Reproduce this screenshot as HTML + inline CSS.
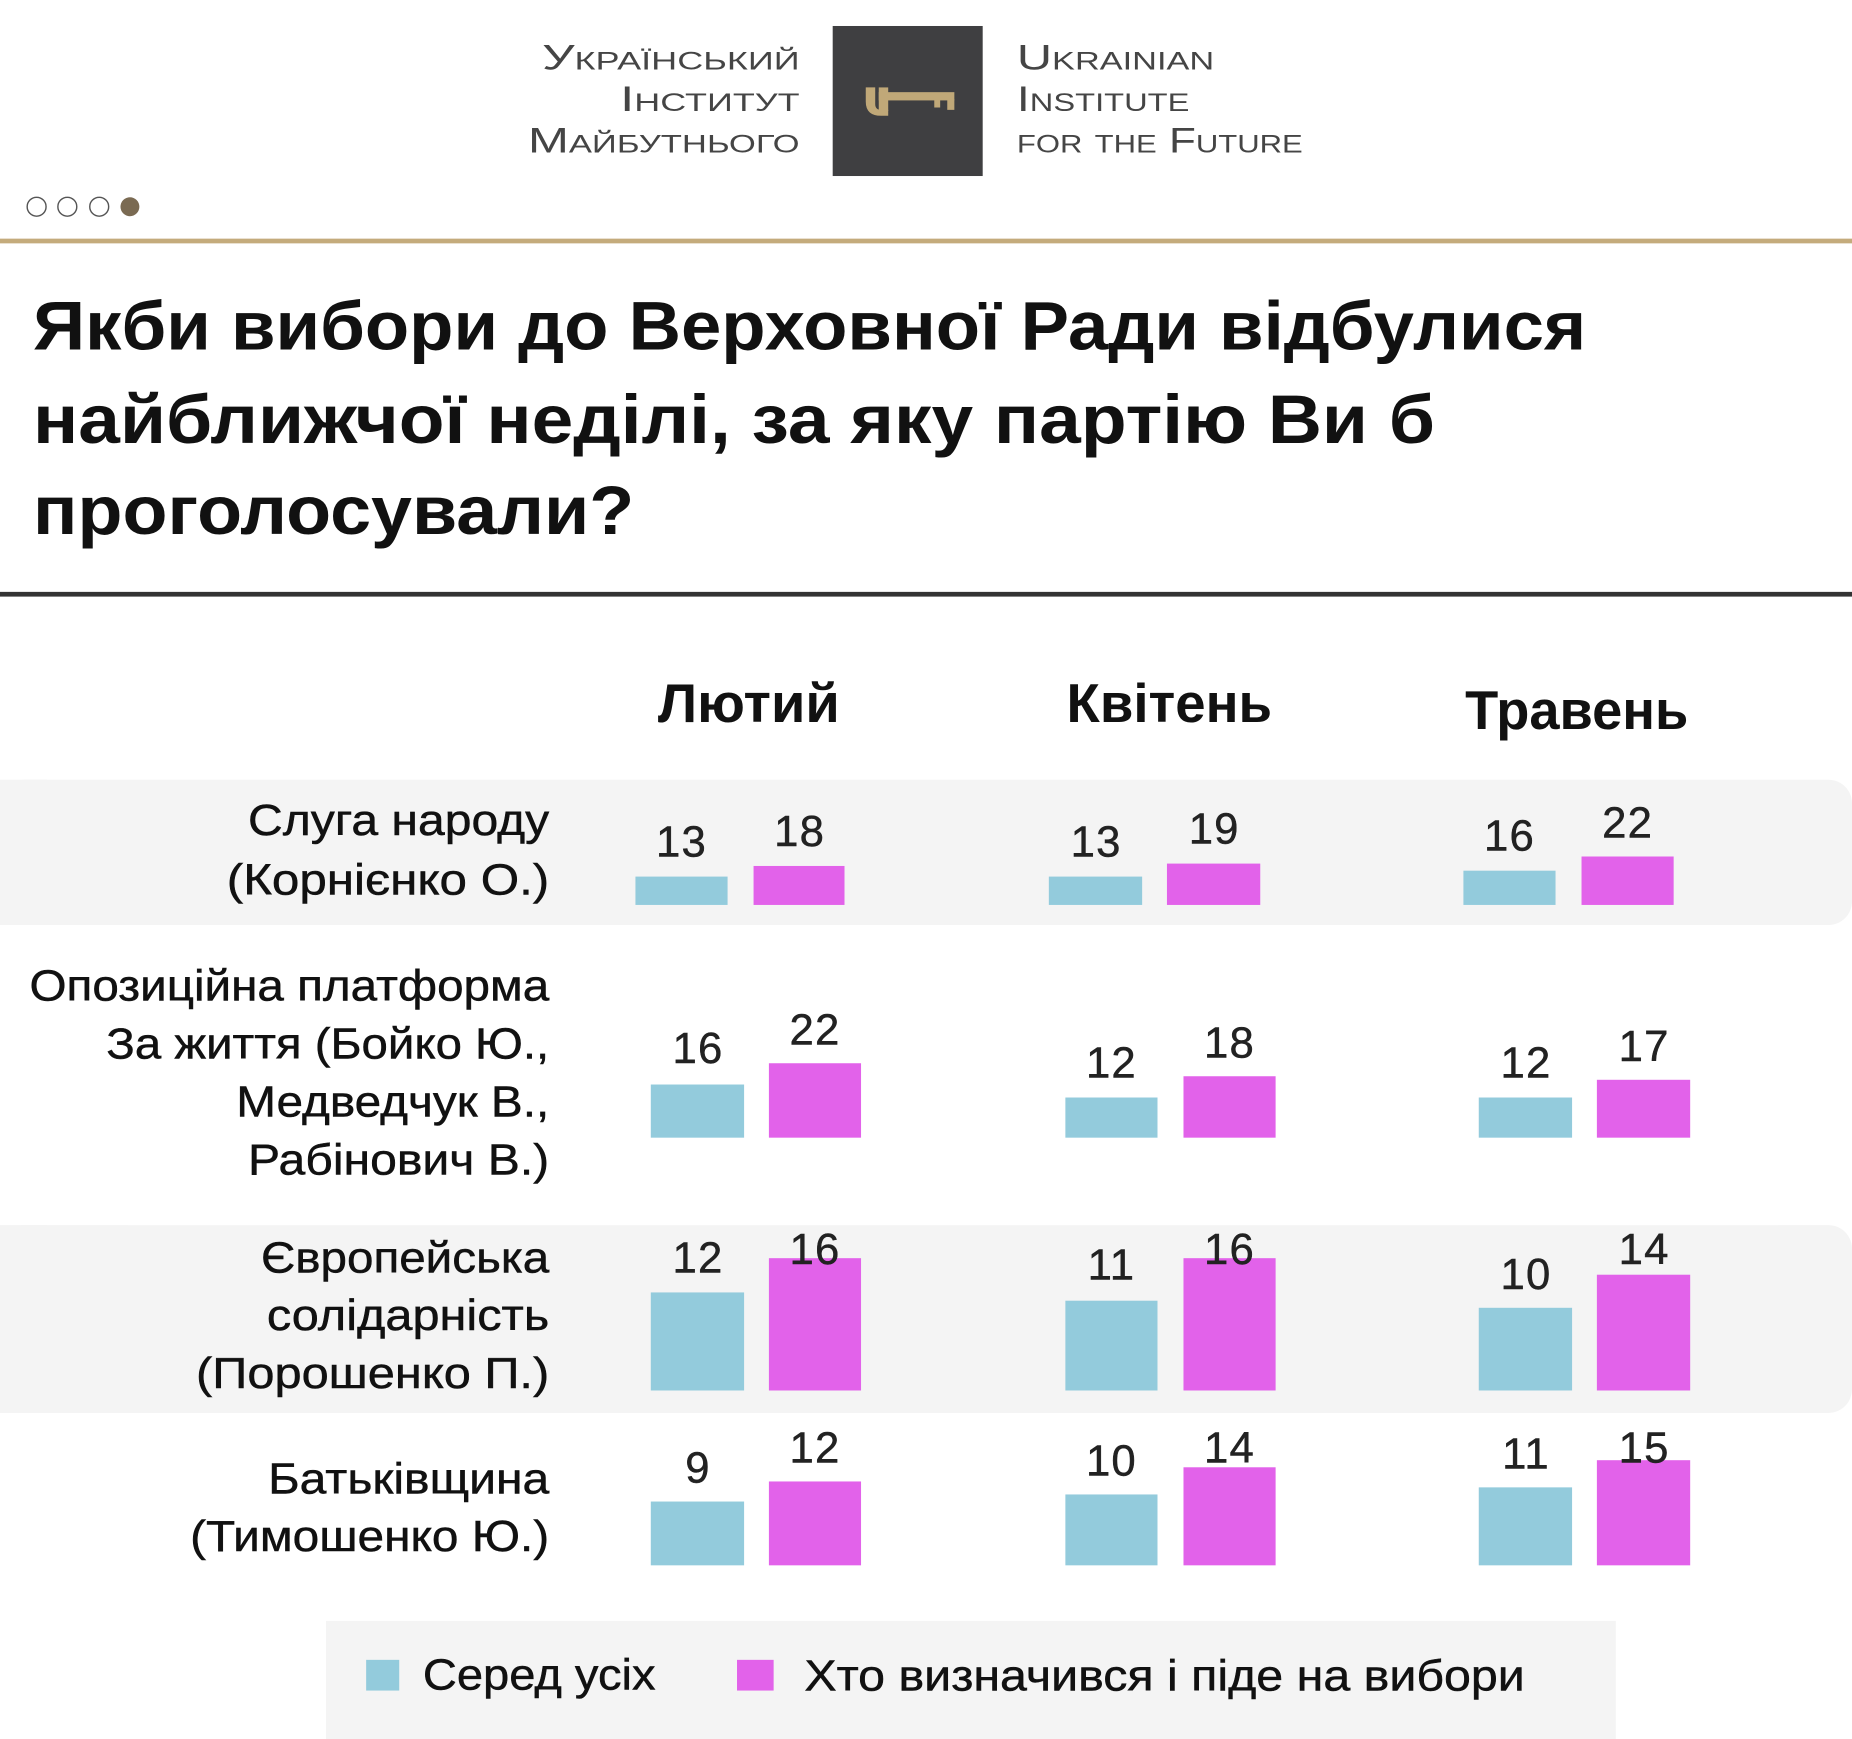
<!DOCTYPE html>
<html><head><meta charset="utf-8"><style>
html,body{margin:0;padding:0;background:#fff;width:1852px;height:1739px;overflow:hidden}
svg{display:block}
text{font-family:"Liberation Sans","DejaVu Sans",sans-serif}
</style></head><body>
<svg width="1852" height="1739" viewBox="0 0 1568 1472" preserveAspectRatio="none" xmlns="http://www.w3.org/2000/svg">
<rect width="1568" height="1472" fill="#fff"/>
<!-- logo -->
<rect x="705" y="22" width="127" height="127" fill="#3f3f41"/>
<path d="M733 74 h8 v14 q0 5 5 5 h6 v5 h-6 q-13 0 -13 -12 z" fill="#c0a878"/>
<rect x="744" y="78" width="64" height="7" fill="#c0a878"/>
<rect x="744" y="74" width="8" height="20" fill="#c0a878"/>
<rect x="791" y="84" width="5" height="7" fill="#c0a878"/>
<rect x="802" y="84" width="6" height="9" fill="#c0a878"/>
<g fill="#454545" font-size="30" style="font-variant:small-caps" text-anchor="end">
<text x="677" y="59" textLength="218" lengthAdjust="spacingAndGlyphs">Український</text>
<text x="677" y="94" textLength="152" lengthAdjust="spacingAndGlyphs">Інститут</text>
<text x="677" y="129" textLength="230" lengthAdjust="spacingAndGlyphs">Майбутнього</text>
</g>
<g fill="#454545" font-size="30" style="font-variant:small-caps">
<text x="861" y="59" textLength="167" lengthAdjust="spacingAndGlyphs">Ukrainian</text>
<text x="861" y="94" textLength="146" lengthAdjust="spacingAndGlyphs">Institute</text>
<text x="861" y="129" textLength="242" lengthAdjust="spacingAndGlyphs">for the Future</text>
</g>
<!-- dots -->
<g fill="none" stroke="#555" stroke-width="1.2">
<circle cx="31" cy="175" r="8"/><circle cx="57" cy="175" r="8"/><circle cx="84" cy="175" r="8"/>
</g>
<circle cx="110" cy="175" r="8" fill="#7a6a52"/>
<rect x="0" y="202" width="1568" height="4" fill="#c4ab7c"/>
<!-- title -->
<g font-size="58" font-weight="bold" fill="#111">
<text x="28" y="296" textLength="1315" lengthAdjust="spacingAndGlyphs">Якби вибори до Верховної Ради відбулися</text>
<text x="28" y="375" textLength="1187" lengthAdjust="spacingAndGlyphs">найближчої неділі, за яку партію Ви б</text>
<text x="28" y="452" textLength="509" lengthAdjust="spacingAndGlyphs">проголосували?</text>
</g>
<rect x="0" y="501" width="1568" height="4" fill="#333"/>
<!-- headers -->
<g font-size="46" font-weight="bold" fill="#111" text-anchor="middle">
<text x="634" y="611" textLength="154" lengthAdjust="spacingAndGlyphs">Лютий</text>
<text x="990" y="611" textLength="174" lengthAdjust="spacingAndGlyphs">Квітень</text>
<text x="1335" y="617" textLength="189" lengthAdjust="spacingAndGlyphs">Травень</text>
</g>
<!-- bands -->
<rect x="0" y="660" width="1568" height="123" rx="20" fill="#f4f4f4"/>
<rect x="0" y="660" width="40" height="123" fill="#f4f4f4"/>
<rect x="0" y="1037" width="1568" height="159" rx="20" fill="#f4f4f4"/>
<rect x="0" y="1037" width="40" height="159" fill="#f4f4f4"/>
<!-- labels -->
<g font-size="37" fill="#111" text-anchor="end" stroke="#111" stroke-width="0.4">
<text x="465" y="707" textLength="255" lengthAdjust="spacingAndGlyphs">Слуга народу</text>
<text x="465" y="757" textLength="273" lengthAdjust="spacingAndGlyphs">(Корнієнко О.)</text>
<text x="465" y="847" textLength="440" lengthAdjust="spacingAndGlyphs">Опозиційна платформа</text>
<text x="465" y="896" textLength="375" lengthAdjust="spacingAndGlyphs">За життя (Бойко Ю.,</text>
<text x="465" y="945" textLength="265" lengthAdjust="spacingAndGlyphs">Медведчук В.,</text>
<text x="465" y="994" textLength="255" lengthAdjust="spacingAndGlyphs">Рабінович В.)</text>
<text x="465" y="1077" textLength="244" lengthAdjust="spacingAndGlyphs">Європейська</text>
<text x="465" y="1126" textLength="239" lengthAdjust="spacingAndGlyphs">солідарність</text>
<text x="465" y="1175" textLength="299" lengthAdjust="spacingAndGlyphs">(Порошенко П.)</text>
<text x="465" y="1264" textLength="238" lengthAdjust="spacingAndGlyphs">Батьківщина</text>
<text x="465" y="1313" textLength="304" lengthAdjust="spacingAndGlyphs">(Тимошенко Ю.)</text>
</g>
<!-- bars -->
<g fill="#93cbdc">
<rect x="538" y="742" width="78" height="24"/><rect x="888" y="742" width="79" height="24"/><rect x="1239" y="737" width="78" height="29"/>
<rect x="551" y="918" width="79" height="45"/><rect x="902" y="929" width="78" height="34"/><rect x="1252" y="929" width="79" height="34"/>
<rect x="551" y="1094" width="79" height="83"/><rect x="902" y="1101" width="78" height="76"/><rect x="1252" y="1107" width="79" height="70"/>
<rect x="551" y="1271" width="79" height="54"/><rect x="902" y="1265" width="78" height="60"/><rect x="1252" y="1259" width="79" height="66"/>
</g>
<g fill="#e262ea">
<rect x="638" y="733" width="77" height="33"/><rect x="988" y="731" width="79" height="35"/><rect x="1339" y="725" width="78" height="41"/>
<rect x="651" y="900" width="78" height="63"/><rect x="1002" y="911" width="78" height="52"/><rect x="1352" y="914" width="79" height="49"/>
<rect x="651" y="1065" width="78" height="112"/><rect x="1002" y="1065" width="78" height="112"/><rect x="1352" y="1079" width="79" height="98"/>
<rect x="651" y="1254" width="78" height="71"/><rect x="1002" y="1242" width="78" height="83"/><rect x="1352" y="1236" width="79" height="89"/>
</g>
<!-- values -->
<g font-size="37" fill="#222" text-anchor="middle" letter-spacing="1" stroke="#222" stroke-width="0.4">
<text x="577" y="725">13</text><text x="677" y="716">18</text>
<text x="928" y="725">13</text><text x="1028" y="714">19</text>
<text x="1278" y="720">16</text><text x="1378" y="709">22</text>
<text x="591" y="900">16</text><text x="690" y="884">22</text>
<text x="941" y="912">12</text><text x="1041" y="895">18</text>
<text x="1292" y="912">12</text><text x="1392" y="898">17</text>
<text x="591" y="1077">12</text><text x="690" y="1070">16</text>
<text x="941" y="1083">11</text><text x="1041" y="1070">16</text>
<text x="1292" y="1091">10</text><text x="1392" y="1070">14</text>
<text x="591" y="1255">9</text><text x="690" y="1238">12</text>
<text x="941" y="1249">10</text><text x="1041" y="1238">14</text>
<text x="1292" y="1243">11</text><text x="1392" y="1238">15</text>
</g>
<!-- legend -->
<rect x="276" y="1372" width="1092" height="100" fill="#f4f4f4"/>
<rect x="310" y="1405" width="28" height="26" fill="#93cbdc"/>
<rect x="624" y="1405" width="31" height="26" fill="#e262ea"/>
<g font-size="37" fill="#111" stroke="#111" stroke-width="0.4">
<text x="358" y="1430" textLength="197" lengthAdjust="spacingAndGlyphs">Серед усіх</text>
<text x="681" y="1431" textLength="610" lengthAdjust="spacingAndGlyphs">Хто визначився і піде на вибори</text>
</g>
</svg>
</body></html>
